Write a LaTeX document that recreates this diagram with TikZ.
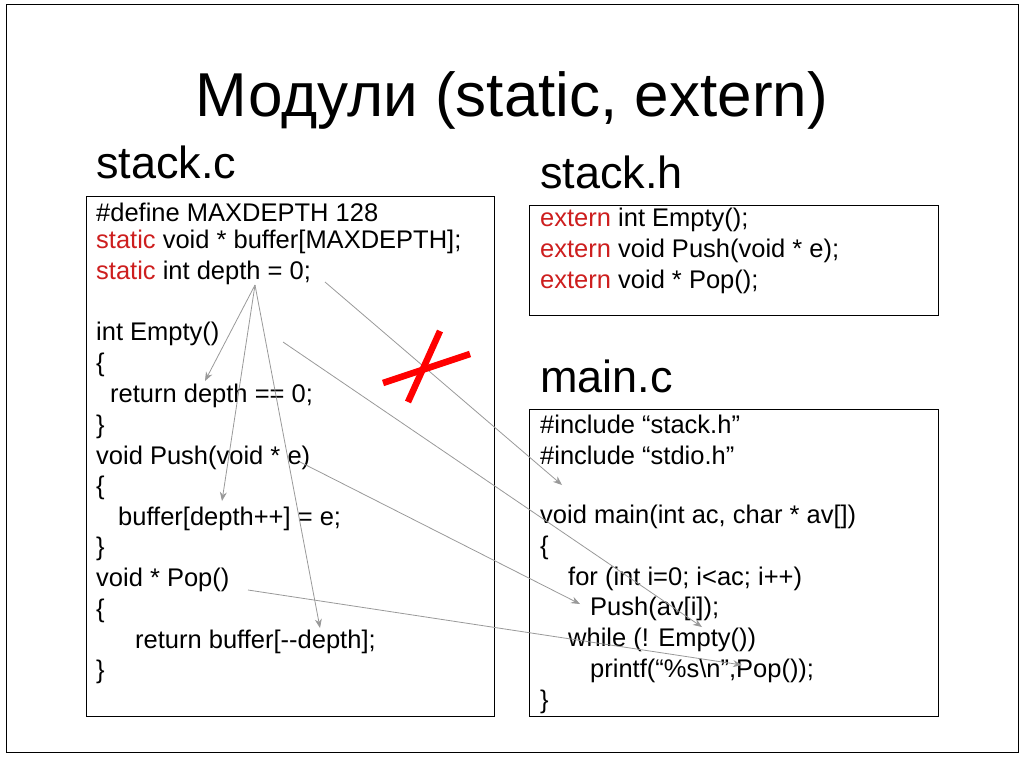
\documentclass[tikz,border=0pt]{standalone}
\usepackage{fontspec}
\setmainfont{Liberation Sans}
\usetikzlibrary{arrows.meta}
\definecolor{kwred}{RGB}{205,30,30}
\tikzset{
  codeline/.style={anchor=west, inner sep=0pt, font=\fontsize{25.5}{28}\selectfont},
  filebox/.style={draw, line width=0.8pt},
  filename/.style={anchor=west, inner sep=0pt, font=\fontsize{45}{50}\selectfont},
  link/.style={draw=gray!80, line width=0.8pt, -{Stealth[length=9pt,width=7pt]}},
}
\newcommand{\kw}[1]{\textcolor{kwred}{#1}}
\begin{document}
\begin{tikzpicture}[x=1pt,y=-1pt]
  \useasboundingbox (0,0) rectangle (1024,768);
  \draw[line width=0.8pt] (6,4) rectangle (1018,752);
  \node[inner sep=0pt, font=\fontsize{62}{70}\selectfont] (title) at (512,100) {Модули (static, extern)};
  % file names
  \node[filename] (nstackc) at (96,162) {stack.c};
  \node[filename] (nstackh) at (540,172) {stack.h};
  \node[filename] (nmainc) at (540,376) {main.c};
  % boxes
  \draw[filebox] (86,196) rectangle (494,716);
  \draw[filebox] (529,205) rectangle (938,315);
  \draw[filebox] (529,409) rectangle (938,716);
  % stack.c
  \node[codeline] (c1) at (96,212) {\#define MAXDEPTH 128};
  \node[codeline] (c2) at (96,242) {\kw{static} void * buffer[MAXDEPTH];};
  \node[codeline] (c3) at (96,273) {\kw{static} int depth = 0;};
  \node[codeline] (c4) at (96,334) {int Empty()};
  \node[codeline] (c5) at (96,365) {\{};
  \node[codeline] (c6) at (110,396) {return depth == 0;};
  \node[codeline] (c7) at (96,427) {\}};
  \node[codeline] (c8) at (96,458) {void Push(void * e)};
  \node[codeline] (c9) at (96,488) {\{};
  \node[codeline] (c10) at (118,519) {buffer[depth++] = e;};
  \node[codeline] (c11) at (96,549) {\}};
  \node[codeline] (c12) at (96,580) {void * Pop()};
  \node[codeline] (c13) at (96,611) {\{};
  \node[codeline] (c14) at (135,642) {return buffer[{-}{-}depth];};
  \node[codeline] (c15) at (96,672) {\}};
  % stack.h
  \node[codeline] (h1) at (540,220) {\kw{extern} int Empty();};
  \node[codeline] (h2) at (540,251) {\kw{extern} void Push(void * e);};
  \node[codeline] (h3) at (540,282) {\kw{extern} void * Pop();};
  % main.c
  \node[codeline] (m1) at (540,424) {\#include “stack.h”};
  \node[codeline] (m2) at (540,455) {\#include “stdio.h”};
  \node[codeline] (m3) at (540,517) {void main(int ac, char * av[])};
  \node[codeline] (m4) at (540,548) {\{};
  \node[codeline] (m5) at (568,579) {for (int i=0; i<ac; i++)};
  \node[codeline] (m6) at (590,609) {Push(av[i]);};
  \node[codeline] (m7) at (568,640) {while (! Empty())};
  \node[codeline] (m8) at (590,671) {printf(“\%s\textbackslash n”,Pop());};
  \node[codeline] (m9) at (540,702) {\}};
  % arrow ends
  \coordinate (depthsrc) at (255,285);
  \coordinate (depthA) at (205,381);
  \coordinate (depthB) at (222,501);
  \coordinate (depthC) at (320,628);
  \coordinate (depthsrc2) at (325,282);
  \coordinate (mainuse) at (562,485);
  \coordinate (emptysrc) at (283,342);
  \coordinate (emptyuse) at (702,627);
  \coordinate (pushsrc) at (300,462);
  \coordinate (pushuse) at (580,604);
  \coordinate (popsrc) at (248,590);
  \coordinate (popuse) at (742,665);
  \draw[link] (depthsrc) -- (depthA);
  \draw[link] (depthsrc) -- (depthB);
  \draw[link] (depthsrc) -- (depthC);
  \draw[link] (depthsrc2) -- (mainuse);
  \draw[link] (emptysrc) -- (emptyuse);
  \draw[link] (pushsrc) -- (pushuse);
  \draw[link] (popsrc) -- (popuse);
  % cross
  \coordinate (xa) at (383,383);
  \coordinate (xb) at (470,354);
  \coordinate (xc) at (440,331);
  \coordinate (xd) at (408,402);
  \draw[red, line width=6.5pt] (xa) -- (xb);
  \draw[red, line width=6.5pt] (xc) -- (xd);
\end{tikzpicture}
\end{document}
